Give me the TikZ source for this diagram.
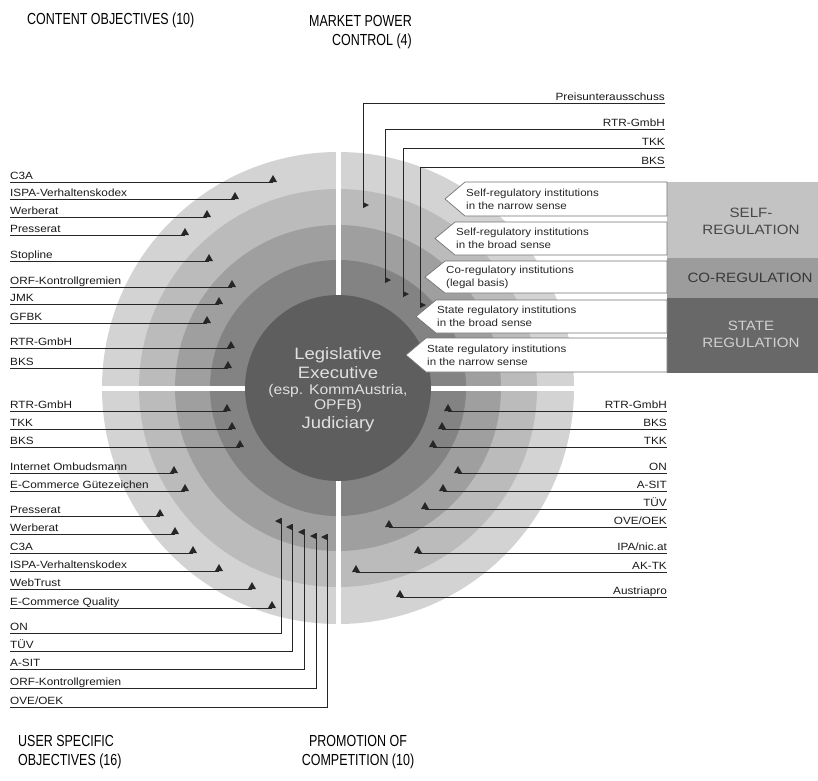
\documentclass[tikz,border=0pt]{standalone}
\usepackage{fontspec}
\setmainfont[FakeStretch=1.12]{Liberation Sans}
\newfontfamily\titlefont[FakeStretch=0.78]{Liberation Sans}

\definecolor{ringA}{HTML}{D3D3D3}
\definecolor{ringB}{HTML}{BBBBBB}
\definecolor{ringC}{HTML}{9F9F9F}
\definecolor{ringD}{HTML}{838383}
\definecolor{ringcore}{HTML}{5E5E5E}
\definecolor{catself}{HTML}{C3C3C3}
\definecolor{catco}{HTML}{9C9C9C}
\definecolor{catstate}{HTML}{686868}

\tikzset{
	tag/.style={font=\fontsize{10.5}{12}\selectfont, text=black!90, inner sep=0pt},
	tagline/.style={line width=1pt, black!85},
	regbox/.style={fill=white, draw=black!55, line width=0.7pt},
	boxtext/.style={font=\fontsize{10.3}{13}\selectfont, align=left, inner sep=0pt, text=black!85},
	cattext/.style={font=\fontsize{13.5}{17}\selectfont, align=center, inner sep=0pt},
	title/.style={font=\titlefont\fontsize{16}{19.5}\selectfont, inner sep=0pt},
	core/.style={text=black!12, inner sep=0pt},
}

\def\uptri(#1){\fill[black!85] (#1) ++(-4,0) -- ++(8,0) -- ++(-4,-7) -- cycle;}
\def\lefttri(#1){\fill[black!85] (#1) -- ++(0,6) -- ++(-6,-3) -- cycle;}
\def\righttri(#1){\fill[black!85] (#1) -- ++(0,-6) -- ++(6,3) -- cycle;}

% left side: label over a line running in to a ring
\def\westtag(#1,#2,#3)#4{%
	\coordinate (#1-a) at (10,#2);
	\coordinate (#1-b) at (#3,#2);
	\node[tag, anchor=base west] (#1) at (10,#2-3) {#4};
	\draw[tagline] (#1-a) -- (#1-b);
	\uptri(#1-b)}
% right side, bottom quadrant
\def\easttag(#1,#2,#3)#4{%
	\coordinate (#1-a) at (#3,#2);
	\coordinate (#1-b) at (667,#2);
	\node[tag, anchor=base east] (#1) at (667,#2-3) {#4};
	\draw[tagline] (#1-a) -- (#1-b);
	\uptri(#1-a)}
% right side, top quadrant (elbow down)
\def\droptag(#1,#2,#3,#4)#5{%
	\coordinate (#1-a) at (665,#2);
	\coordinate (#1-b) at (#3,#4);
	\node[tag, anchor=base east] (#1) at (665,#2-3) {#5};
	\draw[tagline] (#1-a) -| (#1-b);
	\righttri(#1-b)}
% left side, bottom quadrant (elbow up)
\def\risetag(#1,#2,#3,#4)#5{%
	\coordinate (#1-a) at (10,#2);
	\coordinate (#1-b) at (#3,#4);
	\node[tag, anchor=base west] (#1) at (10,#2-3) {#5};
	\draw[tagline] (#1-a) -| (#1-b);
	\lefttri(#1-b)}
% arrow boxes pointing into the rings
\def\regarrow(#1,#2,#3,#4)#5{%
	\draw[regbox] (667,#2) -- (#4+20,#2) -- (#4,{(#2+#3)/2}) -- (#4+20,#3) -- (667,#3) -- cycle;
	\node[boxtext, anchor=west] (#1) at (#4+21,{(#2+#3)/2}) {#5};}

\begin{document}
\begin{tikzpicture}[x=1pt, y=-1pt]
		\useasboundingbox (0,0) rectangle (818,780);
		
		%%%%% RINGS %%%%%
		\fill[ringA] (338,388) circle (236pt);
		\fill[ringB] (338,388) circle (199pt);
		\fill[ringC] (338,388) circle (163pt);
		\fill[ringD] (338,388) circle (128pt);
		\draw[white, line width=5pt] (338,150) -- (338,626);
		\draw[white, line width=5pt] (100,388) -- (576,388);
		\fill[ringcore] (338,388) circle (93pt);
		
		\node[core, anchor=base, font=\fontsize{16.5}{19}\selectfont] (legis) at (338,359) {Legislative};
		\node[core, anchor=base, font=\fontsize{16.5}{19}\selectfont] (exec) at (338,378) {Executive};
		\node[core, anchor=base, font=\fontsize{14}{16}\selectfont] (komm) at (338,394) {(esp. KommAustria,};
		\node[core, anchor=base, font=\fontsize{14}{16}\selectfont] (opfb) at (338,409) {OPFB)};
		\node[core, anchor=base, font=\fontsize{16.5}{19}\selectfont] (judic) at (338,428) {Judiciary};
		
		%%%%% TITLES %%%%%
		\node[title, anchor=base west] (content) at (27,24) {CONTENT OBJECTIVES (10)};
		\node[title, anchor=north east, align=right] (market) at (412,15) {MARKET POWER\\CONTROL (4)};
		\node[title, anchor=north west, align=left] (user) at (18,735) {USER SPECIFIC\\OBJECTIVES (16)};
		\node[title, anchor=north, align=center] (promo) at (358,735) {PROMOTION OF\\COMPETITION (10)};
		
		%%%%% REGULATION LEVELS %%%%%
		\fill[catself] (667,182) rectangle (818,258);
		\fill[catco] (667,258) rectangle (818,298);
		\fill[catstate] (667,298) rectangle (818,373);
		\node[cattext, text=black!72] (selfreg) at (751,221) {SELF-\\REGULATION};
		\node[cattext, text=black!78] (coreg) at (750,278) {CO-REGULATION};
		\node[cattext, text=black!18] (statereg) at (751,334) {STATE\\REGULATION};
		
		\regarrow(selfnarrow,182,216,445){Self-regulatory institutions\\in the narrow sense}
		\regarrow(selfbroad,222,255,435){Self-regulatory institutions\\in the broad sense}
		\regarrow(colegal,261,293,425){Co-regulatory institutions\\(legal basis)}
		\regarrow(statebroad,300,333,416){State regulatory institutions\\in the broad sense}
		\regarrow(statenarrow,338,372,406){State regulatory institutions\\in the narrow sense}
		
		%%%%% CONTENT OBJECTIVES %%%%%
		\westtag(coC3A,182,273){C3A}
		\westtag(coISPA,199,235){ISPA-Verhaltenskodex}
		\westtag(coWerb,217,207){Werberat}
		\westtag(coPress,235,185){Presserat}
		\westtag(coStop,261,209){Stopline}
		\westtag(coORF,287,232){ORF-Kontrollgremien}
		\westtag(coJMK,304,219){JMK}
		\westtag(coGFBK,323,207){GFBK}
		\westtag(coRTR,348,231){RTR-GmbH}
		\westtag(coBKS,368,228){BKS}
		
		%%%%% MARKET POWER CONTROL %%%%%
		\droptag(mpPreis,103,363,208){Preisunterausschuss}
		\droptag(mpRTR,129,385,283){RTR-GmbH}
		\droptag(mpTKK,148,403,297){TKK}
		\droptag(mpBKS,167,420,308){BKS}
		
		%%%%% USER SPECIFIC OBJECTIVES %%%%%
		\westtag(usRTR,411,227){RTR-GmbH}
		\westtag(usTKK,429,232){TKK}
		\westtag(usBKS,447,240){BKS}
		\westtag(usOmb,473,174){Internet Ombudsmann}
		\westtag(usGuete,491,185){E-Commerce Gütezeichen}
		\westtag(usPress,516,160){Presserat}
		\westtag(usWerb,534,175){Werberat}
		\westtag(usC3A,553,193){C3A}
		\westtag(usISPA,571,219){ISPA-Verhaltenskodex}
		\westtag(usWeb,589,252){WebTrust}
		\westtag(usECQ,608,272){E-Commerce Quality}
		\risetag(usON,633,281,518){ON}
		\risetag(usTUEV,651,292,524){TÜV}
		\risetag(usASIT,669,304,529){A-SIT}
		\risetag(usORF,688,316,533){ORF-Kontrollgremien}
		\risetag(usOVE,707,327,534){OVE/OEK}
		
		%%%%% PROMOTION OF COMPETITION %%%%%
		\easttag(pcRTR,411,448){RTR-GmbH}
		\easttag(pcBKS,429,442){BKS}
		\easttag(pcTKK,447,433){TKK}
		\easttag(pcON,473,458){ON}
		\easttag(pcASIT,491,443){A-SIT}
		\easttag(pcTUEV,509,425){TÜV}
		\easttag(pcOVE,527,389){OVE/OEK}
		\easttag(pcIPA,553,418){IPA/nic.at}
		\easttag(pcAKTK,572,356){AK-TK}
		\easttag(pcAustria,597,400){Austriapro}
		
	\end{tikzpicture}
\end{document}
